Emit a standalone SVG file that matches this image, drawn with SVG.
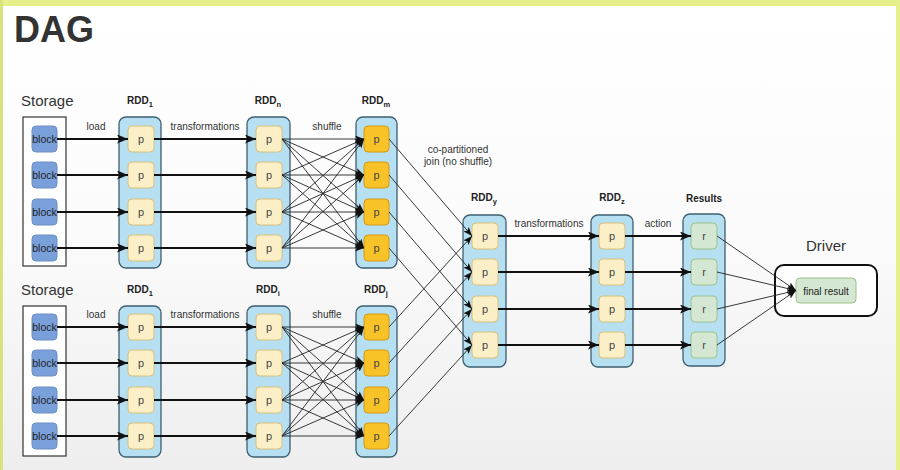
<svg xmlns="http://www.w3.org/2000/svg" width="900" height="470" viewBox="0 0 900 470">
<defs>
<linearGradient id="bg" x1="0" y1="0" x2="0" y2="1">
<stop offset="0" stop-color="#ffffff"/>
<stop offset="0.5" stop-color="#fbfbfb"/>
<stop offset="1" stop-color="#eeeeee"/>
</linearGradient>
<marker id="ah" markerUnits="userSpaceOnUse" markerWidth="11" markerHeight="9" refX="11" refY="4.5" orient="auto">
<path d="M0,0 L11,4.5 L0,9 L2.5,4.5 z" fill="#111"/>
</marker>
<marker id="as" markerUnits="userSpaceOnUse" markerWidth="9" markerHeight="7" refX="9" refY="3.5" orient="auto">
<path d="M0,0 L9,3.5 L0,7 L2,3.5 z" fill="#111"/>
</marker>
</defs>
<style>
text{font-family:"Liberation Sans",Arial,sans-serif;fill:#333}
.title{font-size:36px;font-weight:bold;fill:#333}
.big{font-size:15px}
.lbl{font-size:10px;text-anchor:middle}
.rdd{font-size:10px;font-weight:bold;text-anchor:middle;fill:#222}
.sub{font-size:7.5px}
.ct{fill:#b7dff2;stroke:#3e5f70;stroke-width:1.3}
.st{fill:#ffffff;stroke:#333;stroke-width:1.2}
.blk{fill:#7aa0dc;stroke:#6c8ebf;stroke-width:1}
.p{fill:#fbefc8;stroke:#d8c07a;stroke-width:1}
.q{fill:#f7c328;stroke:#d49a10;stroke-width:1}
.r{fill:#d4e7d2;stroke:#9bc08a;stroke-width:1}
.drv{fill:#ffffff;stroke:#111;stroke-width:2}
.bt{font-size:10.5px;text-anchor:middle;fill:#222}
.ft{font-size:10px;text-anchor:middle;fill:#222}
.pt{font-size:11px;text-anchor:middle;fill:#444}
.thick{stroke:#111;stroke-width:2;fill:none;marker-end:url(#ah)}
.thin{stroke:#222;stroke-width:0.9;fill:none;marker-end:url(#as)}
</style>
<rect x="0" y="0" width="900" height="470" fill="url(#bg)"/>
<rect x="0" y="0" width="900" height="6" fill="#e6f08a"/>
<rect x="0" y="0" width="3" height="470" fill="#d9e27c"/>
<rect x="896" y="0" width="4" height="470" fill="#e6f08a"/>
<text class="title" x="14" y="42">DAG</text>

<g id="labels">
<text class="big" x="21" y="106">Storage</text>
<text class="big" x="21" y="295">Storage</text>
<text class="rdd" x="140" y="104">RDD<tspan class="sub" dy="3">1</tspan></text>
<text class="rdd" x="268" y="104">RDD<tspan class="sub" dy="3">n</tspan></text>
<text class="rdd" x="376" y="104">RDD<tspan class="sub" dy="3">m</tspan></text>
<text class="rdd" x="140" y="293">RDD<tspan class="sub" dy="3">1</tspan></text>
<text class="rdd" x="268" y="293">RDD<tspan class="sub" dy="3">i</tspan></text>
<text class="rdd" x="376" y="293">RDD<tspan class="sub" dy="3">j</tspan></text>
<text class="rdd" x="484" y="201">RDD<tspan class="sub" dy="3">y</tspan></text>
<text class="rdd" x="612" y="201">RDD<tspan class="sub" dy="3">z</tspan></text>
<text class="rdd" x="704" y="202">Results</text>
<text class="lbl" x="96" y="130">load</text>
<text class="lbl" x="205" y="130">transformations</text>
<text class="lbl" x="327" y="130">shuffle</text>
<text class="lbl" x="96" y="318">load</text>
<text class="lbl" x="205" y="318">transformations</text>
<text class="lbl" x="327" y="318">shuffle</text>
<text class="lbl" x="458" y="153">co-partitioned</text>
<text class="lbl" x="458" y="165">join (no shuffle)</text>
<text class="lbl" x="549" y="227">transformations</text>
<text class="lbl" x="658" y="227">action</text>
<text class="big" x="826" y="251" text-anchor="middle">Driver</text>
</g>

<g id="storage1">
<rect class="st" x="23" y="117" width="43" height="149"/>
<g id="blk1a"><rect class="blk" x="32" y="126" width="25" height="26" rx="4"/><text class="bt" x="44.5" y="143">block</text></g>
<g id="blk1b"><rect class="blk" x="32" y="162" width="25" height="26" rx="4"/><text class="bt" x="44.5" y="179">block</text></g>
<g id="blk1c"><rect class="blk" x="32" y="199" width="25" height="26" rx="4"/><text class="bt" x="44.5" y="216">block</text></g>
<g id="blk1d"><rect class="blk" x="32" y="235" width="25" height="26" rx="4"/><text class="bt" x="44.5" y="252">block</text></g>
</g>
<g id="storage2">
<rect class="st" x="23" y="306" width="43" height="150"/>
<g id="blk2a"><rect class="blk" x="32" y="314" width="25" height="26" rx="4"/><text class="bt" x="44.5" y="331">block</text></g>
<g id="blk2b"><rect class="blk" x="32" y="350" width="25" height="26" rx="4"/><text class="bt" x="44.5" y="367">block</text></g>
<g id="blk2c"><rect class="blk" x="32" y="387" width="25" height="26" rx="4"/><text class="bt" x="44.5" y="404">block</text></g>
<g id="blk2d"><rect class="blk" x="32" y="423" width="25" height="26" rx="4"/><text class="bt" x="44.5" y="440">block</text></g>
</g>

<g id="rdd1top">
<rect class="ct" x="119" y="117" width="42" height="151" rx="7"/>
<g id="rdd1top-p1"><rect class="p" x="128" y="126" width="26" height="26" rx="4"/><text class="pt" x="141" y="143">p</text></g>
<g id="rdd1top-p2"><rect class="p" x="128" y="162" width="26" height="26" rx="4"/><text class="pt" x="141" y="179">p</text></g>
<g id="rdd1top-p3"><rect class="p" x="128" y="199" width="26" height="26" rx="4"/><text class="pt" x="141" y="216">p</text></g>
<g id="rdd1top-p4"><rect class="p" x="128" y="235" width="26" height="26" rx="4"/><text class="pt" x="141" y="252">p</text></g>
</g>
<g id="rddn">
<rect class="ct" x="247" y="117" width="43" height="151" rx="7"/>
<g id="rddn-p1"><rect class="p" x="256" y="126" width="26" height="26" rx="4"/><text class="pt" x="269" y="143">p</text></g>
<g id="rddn-p2"><rect class="p" x="256" y="162" width="26" height="26" rx="4"/><text class="pt" x="269" y="179">p</text></g>
<g id="rddn-p3"><rect class="p" x="256" y="199" width="26" height="26" rx="4"/><text class="pt" x="269" y="216">p</text></g>
<g id="rddn-p4"><rect class="p" x="256" y="235" width="26" height="26" rx="4"/><text class="pt" x="269" y="252">p</text></g>
</g>
<g id="rddm">
<rect class="ct" x="356" y="117" width="41" height="151" rx="7"/>
<g id="rddm-p1"><rect class="q" x="364" y="126" width="25" height="26" rx="4"/><text class="pt" x="376.5" y="143">p</text></g>
<g id="rddm-p2"><rect class="q" x="364" y="162" width="25" height="26" rx="4"/><text class="pt" x="376.5" y="179">p</text></g>
<g id="rddm-p3"><rect class="q" x="364" y="199" width="25" height="26" rx="4"/><text class="pt" x="376.5" y="216">p</text></g>
<g id="rddm-p4"><rect class="q" x="364" y="235" width="25" height="26" rx="4"/><text class="pt" x="376.5" y="252">p</text></g>
</g>

<g id="rdd1bot">
<rect class="ct" x="119" y="306" width="42" height="151" rx="7"/>
<g id="rdd1bot-p1"><rect class="p" x="128" y="314" width="26" height="26" rx="4"/><text class="pt" x="141" y="331">p</text></g>
<g id="rdd1bot-p2"><rect class="p" x="128" y="350" width="26" height="26" rx="4"/><text class="pt" x="141" y="367">p</text></g>
<g id="rdd1bot-p3"><rect class="p" x="128" y="387" width="26" height="26" rx="4"/><text class="pt" x="141" y="404">p</text></g>
<g id="rdd1bot-p4"><rect class="p" x="128" y="423" width="26" height="26" rx="4"/><text class="pt" x="141" y="440">p</text></g>
</g>
<g id="rddi">
<rect class="ct" x="247" y="306" width="43" height="151" rx="7"/>
<g id="rddi-p1"><rect class="p" x="256" y="314" width="26" height="26" rx="4"/><text class="pt" x="269" y="331">p</text></g>
<g id="rddi-p2"><rect class="p" x="256" y="350" width="26" height="26" rx="4"/><text class="pt" x="269" y="367">p</text></g>
<g id="rddi-p3"><rect class="p" x="256" y="387" width="26" height="26" rx="4"/><text class="pt" x="269" y="404">p</text></g>
<g id="rddi-p4"><rect class="p" x="256" y="423" width="26" height="26" rx="4"/><text class="pt" x="269" y="440">p</text></g>
</g>
<g id="rddj">
<rect class="ct" x="356" y="306" width="41" height="151" rx="7"/>
<g id="rddj-p1"><rect class="q" x="364" y="314" width="25" height="26" rx="4"/><text class="pt" x="376.5" y="331">p</text></g>
<g id="rddj-p2"><rect class="q" x="364" y="350" width="25" height="26" rx="4"/><text class="pt" x="376.5" y="367">p</text></g>
<g id="rddj-p3"><rect class="q" x="364" y="387" width="25" height="26" rx="4"/><text class="pt" x="376.5" y="404">p</text></g>
<g id="rddj-p4"><rect class="q" x="364" y="423" width="25" height="26" rx="4"/><text class="pt" x="376.5" y="440">p</text></g>
</g>

<g id="rddy">
<rect class="ct" x="463" y="215" width="43" height="152" rx="7"/>
<g id="rddy-p1"><rect class="p" x="472" y="223" width="26" height="26" rx="4"/><text class="pt" x="485" y="240">p</text></g>
<g id="rddy-p2"><rect class="p" x="472" y="259" width="26" height="26" rx="4"/><text class="pt" x="485" y="276">p</text></g>
<g id="rddy-p3"><rect class="p" x="472" y="296" width="26" height="26" rx="4"/><text class="pt" x="485" y="313">p</text></g>
<g id="rddy-p4"><rect class="p" x="472" y="332" width="26" height="26" rx="4"/><text class="pt" x="485" y="349">p</text></g>
</g>
<g id="rddz">
<rect class="ct" x="591" y="215" width="42" height="152" rx="7"/>
<g id="rddz-p1"><rect class="p" x="599" y="223" width="26" height="26" rx="4"/><text class="pt" x="612" y="240">p</text></g>
<g id="rddz-p2"><rect class="p" x="599" y="259" width="26" height="26" rx="4"/><text class="pt" x="612" y="276">p</text></g>
<g id="rddz-p3"><rect class="p" x="599" y="296" width="26" height="26" rx="4"/><text class="pt" x="612" y="313">p</text></g>
<g id="rddz-p4"><rect class="p" x="599" y="332" width="26" height="26" rx="4"/><text class="pt" x="612" y="349">p</text></g>
</g>
<g id="results">
<rect class="ct" x="683" y="214" width="42" height="152" rx="7"/>
<g id="res-r1"><rect class="r" x="691" y="223" width="26" height="26" rx="4"/><text class="pt" x="704" y="240">r</text></g>
<g id="res-r2"><rect class="r" x="691" y="259" width="26" height="26" rx="4"/><text class="pt" x="704" y="276">r</text></g>
<g id="res-r3"><rect class="r" x="691" y="296" width="26" height="26" rx="4"/><text class="pt" x="704" y="313">r</text></g>
<g id="res-r4"><rect class="r" x="691" y="332" width="26" height="26" rx="4"/><text class="pt" x="704" y="349">r</text></g>
</g>
<g id="driver">
<rect class="drv" x="775" y="265" width="102" height="51" rx="9"/>
<g id="final"><rect class="r" x="796" y="278" width="60" height="25" rx="4"/><text class="ft" x="826" y="294.5">final result</text></g>
</g>

<g id="connectors">
<line class="thick" x1="57" y1="139" x2="128" y2="139"/>
<line class="thick" x1="57" y1="175" x2="128" y2="175"/>
<line class="thick" x1="57" y1="212" x2="128" y2="212"/>
<line class="thick" x1="57" y1="248" x2="128" y2="248"/>
<line class="thick" x1="57" y1="327" x2="128" y2="327"/>
<line class="thick" x1="57" y1="363" x2="128" y2="363"/>
<line class="thick" x1="57" y1="400" x2="128" y2="400"/>
<line class="thick" x1="57" y1="436" x2="128" y2="436"/>
<line class="thick" x1="154" y1="139" x2="256" y2="139"/>
<line class="thick" x1="154" y1="175" x2="256" y2="175"/>
<line class="thick" x1="154" y1="212" x2="256" y2="212"/>
<line class="thick" x1="154" y1="248" x2="256" y2="248"/>
<line class="thick" x1="154" y1="327" x2="256" y2="327"/>
<line class="thick" x1="154" y1="363" x2="256" y2="363"/>
<line class="thick" x1="154" y1="400" x2="256" y2="400"/>
<line class="thick" x1="154" y1="436" x2="256" y2="436"/>
<line class="thin" x1="282" y1="139" x2="364" y2="139"/>
<line class="thin" x1="282" y1="139" x2="364" y2="175"/>
<line class="thin" x1="282" y1="139" x2="364" y2="212"/>
<line class="thin" x1="282" y1="139" x2="364" y2="248"/>
<line class="thin" x1="282" y1="175" x2="364" y2="139"/>
<line class="thin" x1="282" y1="175" x2="364" y2="175"/>
<line class="thin" x1="282" y1="175" x2="364" y2="212"/>
<line class="thin" x1="282" y1="175" x2="364" y2="248"/>
<line class="thin" x1="282" y1="212" x2="364" y2="139"/>
<line class="thin" x1="282" y1="212" x2="364" y2="175"/>
<line class="thin" x1="282" y1="212" x2="364" y2="212"/>
<line class="thin" x1="282" y1="212" x2="364" y2="248"/>
<line class="thin" x1="282" y1="248" x2="364" y2="139"/>
<line class="thin" x1="282" y1="248" x2="364" y2="175"/>
<line class="thin" x1="282" y1="248" x2="364" y2="212"/>
<line class="thin" x1="282" y1="248" x2="364" y2="248"/>
<line class="thin" x1="282" y1="327" x2="364" y2="327"/>
<line class="thin" x1="282" y1="327" x2="364" y2="363"/>
<line class="thin" x1="282" y1="327" x2="364" y2="400"/>
<line class="thin" x1="282" y1="327" x2="364" y2="436"/>
<line class="thin" x1="282" y1="363" x2="364" y2="327"/>
<line class="thin" x1="282" y1="363" x2="364" y2="363"/>
<line class="thin" x1="282" y1="363" x2="364" y2="400"/>
<line class="thin" x1="282" y1="363" x2="364" y2="436"/>
<line class="thin" x1="282" y1="400" x2="364" y2="327"/>
<line class="thin" x1="282" y1="400" x2="364" y2="363"/>
<line class="thin" x1="282" y1="400" x2="364" y2="400"/>
<line class="thin" x1="282" y1="400" x2="364" y2="436"/>
<line class="thin" x1="282" y1="436" x2="364" y2="327"/>
<line class="thin" x1="282" y1="436" x2="364" y2="363"/>
<line class="thin" x1="282" y1="436" x2="364" y2="400"/>
<line class="thin" x1="282" y1="436" x2="364" y2="436"/>
<line class="thin" x1="389" y1="139" x2="472" y2="236"/>
<line class="thin" x1="389" y1="175" x2="472" y2="272"/>
<line class="thin" x1="389" y1="212" x2="472" y2="309"/>
<line class="thin" x1="389" y1="248" x2="472" y2="345"/>
<line class="thin" x1="389" y1="327" x2="472" y2="236"/>
<line class="thin" x1="389" y1="363" x2="472" y2="272"/>
<line class="thin" x1="389" y1="400" x2="472" y2="309"/>
<line class="thin" x1="389" y1="436" x2="472" y2="345"/>
<line class="thick" x1="498" y1="236" x2="599" y2="236"/>
<line class="thick" x1="498" y1="272" x2="599" y2="272"/>
<line class="thick" x1="498" y1="309" x2="599" y2="309"/>
<line class="thick" x1="498" y1="345" x2="599" y2="345"/>
<line class="thick" x1="625" y1="236" x2="691" y2="236"/>
<line class="thick" x1="625" y1="272" x2="691" y2="272"/>
<line class="thick" x1="625" y1="309" x2="691" y2="309"/>
<line class="thick" x1="625" y1="345" x2="691" y2="345"/>
<line class="thin" x1="717" y1="236" x2="796" y2="290.5"/>
<line class="thin" x1="717" y1="272" x2="796" y2="290.5"/>
<line class="thin" x1="717" y1="309" x2="796" y2="290.5"/>
<line class="thin" x1="717" y1="345" x2="796" y2="290.5"/>
</g>
</svg>
